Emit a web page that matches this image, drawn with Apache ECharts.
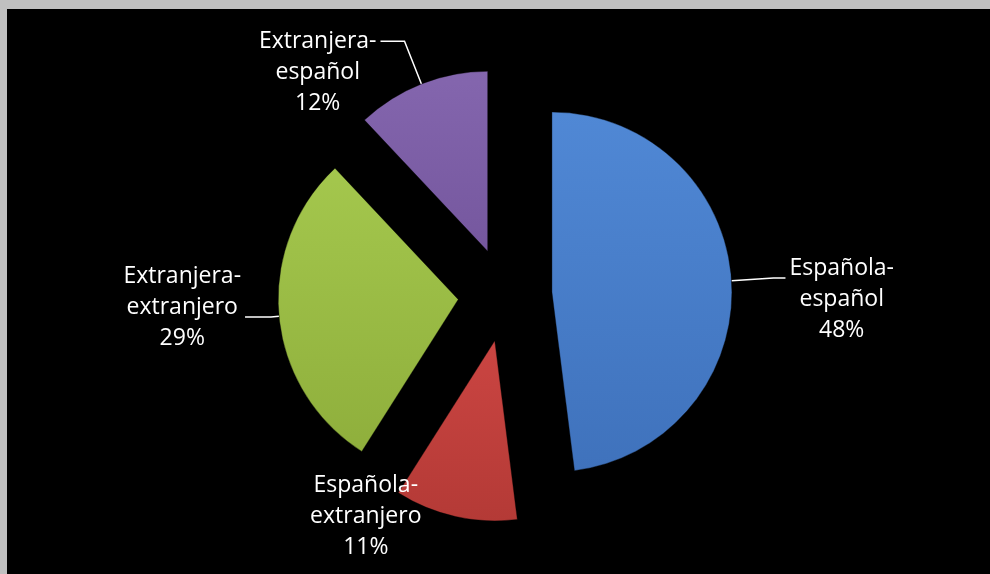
<!DOCTYPE html>
<html>
<head>
<meta charset="utf-8">
<script src="https://cdn.jsdelivr.net/npm/echarts@6/dist/echarts.min.js"></script>
<style>
  html, body { margin: 0; padding: 0; background: #c0c0c0; }
  #frame { position: absolute; left: 0; top: 0; width: 990px; height: 574px; background: #c0c0c0; }
  #chart { position: absolute; left: 7px; top: 9px; width: 983px; height: 565px; background: #000; }
</style>
</head>
<body>
<div id="frame"><div id="chart"></div></div>
<script>
// Couples by origin of mother and father
const categories = ['Española-español', 'Española-extranjero', 'Extranjera-extranjero', 'Extranjera-español'];
const values = [48, 11, 29, 12];

// Slice fill: [top, bottom] of a soft vertical gradient
const sliceColors = [
  ['#5088d5', '#3f72bc'],
  ['#cb4542', '#b43a36'],
  ['#a4c74d', '#8faf3c'],
  ['#8466ae', '#75579e']
];

// Leader line lengths and text offset for each label
const labelSetup = [
  { length: 42, length2: 12, padding: [42, 0, 0, 0], lineColor: '#ffffff' },
  { length: 0, length2: 30, padding: [0, 0, 0, 0], lineColor: 'rgba(0,0,0,0)' },
  { length: 8, length2: 26, padding: [0, 0, 20, 0], lineColor: '#ffffff' },
  { length: 46, length2: 24, padding: [62, 0, 0, 0], lineColor: '#ffffff' }
];

const FONT = '"Open Sans", "Noto Sans", sans-serif';

const total = values.reduce((a, b) => a + b, 0);

const seriesData = categories.map((name, i) => ({
  name: name,
  value: values[i],
  selected: true,
  itemStyle: {
    color: {
      type: 'linear', x: 0, y: 0, x2: 0, y2: 1,
      colorStops: [
        { offset: 0, color: sliceColors[i][0] },
        { offset: 1, color: sliceColors[i][1] }
      ]
    }
  },
  label: { padding: labelSetup[i].padding },
  labelLine: {
    length: labelSetup[i].length,
    length2: labelSetup[i].length2,
    lineStyle: { color: labelSetup[i].lineColor }
  }
}));

function labelText(p) {
  const cut = p.name.indexOf('-') + 1;
  const first = p.name.slice(0, cut);
  const second = p.name.slice(cut);
  const pct = Math.round(p.value / total * 100) + '%';
  return '{t|' + first + '}\n{t|' + second + '}\n{t|' + pct + '}';
}

const chart = echarts.init(document.getElementById('chart'), null, { renderer: 'canvas' });
chart.setOption({
  backgroundColor: '#000000',
  animation: false,
  series: [{
    type: 'pie',
    center: [498, 286],
    radius: 180,
    startAngle: 90,
    clockwise: true,
    selectedMode: 'multiple',
    selectedOffset: 47,
    avoidLabelOverlap: false,
    itemStyle: {
      borderColor: 'rgba(0,0,0,0.35)',
      borderWidth: 1
    },
    select: { itemStyle: { borderColor: 'rgba(0,0,0,0.35)', borderWidth: 1 } },
    emphasis: { scale: false },
    label: {
      show: true,
      position: 'outside',
      distanceToLabelLine: 4,
      formatter: labelText,
      rich: {
        t: { color: '#ffffff', fontFamily: FONT, fontSize: 23, lineHeight: 31, align: 'center' }
      }
    },
    labelLine: {
      show: true,
      smooth: false,
      lineStyle: { width: 1.5 }
    },
    data: seriesData
  }]
});
</script>
</body>
</html>
